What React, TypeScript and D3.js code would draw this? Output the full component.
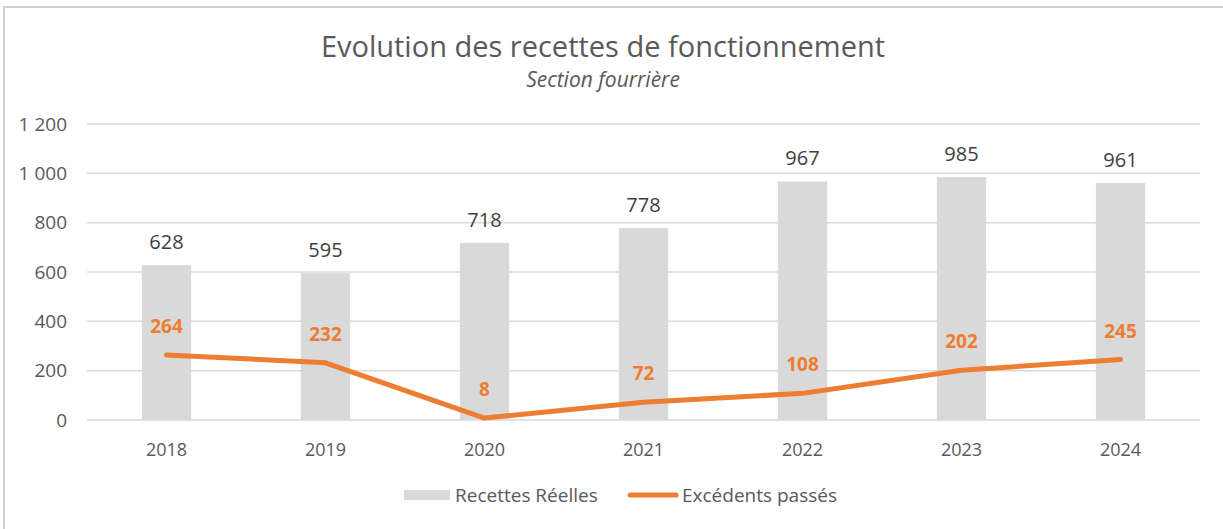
import React, { useEffect, useRef } from "react";
import * as d3 from "d3";

const WIDTH = 1223;
const HEIGHT = 529;

const years = ["2018", "2019", "2020", "2021", "2022", "2023", "2024"];
const recettes = [628, 595, 718, 778, 967, 985, 961];
const excedents = [264, 232, 8, 72, 108, 202, 245];
const yTicks = [0, 200, 400, 600, 800, 1000, 1200];

const FONT = "'Open Sans', sans-serif";
const ORANGE = "#ED7D31";
const GREY_BAR = "#D9D9D9";

export default function App() {
  const ref = useRef<SVGSVGElement | null>(null);

  useEffect(() => {
    const margin = { top: 124, right: 23, bottom: 109, left: 87 };
    const width = WIDTH - margin.left - margin.right;
    const height = HEIGHT - margin.top - margin.bottom;

    const root = d3.select(ref.current);
    root.selectAll("*").remove();

    // outer border (only left and top visible in the crop)
    root
      .append("rect")
      .attr("x", 3)
      .attr("y", 6)
      .attr("width", 2)
      .attr("height", HEIGHT - 6)
      .attr("fill", "#D0D0D0");
    root
      .append("rect")
      .attr("x", 3)
      .attr("y", 6)
      .attr("width", WIDTH - 3)
      .attr("height", 2)
      .attr("fill", "#D0D0D0");

    root
      .append("text")
      .attr("x", 603)
      .attr("y", 57)
      .attr("text-anchor", "middle")
      .attr("font-family", FONT)
      .attr("font-size", 29)
      .attr("fill", "#595959")
      .text("Evolution des recettes de fonctionnement");

    root
      .append("text")
      .attr("x", 603)
      .attr("y", 87)
      .attr("text-anchor", "middle")
      .attr("font-family", FONT)
      .attr("font-style", "italic")
      .attr("font-size", 21)
      .attr("fill", "#595959")
      .text("Section fourrière");

    const svg = root
      .append("g")
      .attr("transform", `translate(${margin.left},${margin.top})`);

    const x = d3.scaleBand().domain(years).range([0, width]).paddingInner(0.69).paddingOuter(0.345);
    const y = d3.scaleLinear().domain([0, 1200]).range([height, 0]);

    // gridlines
    svg
      .append("g")
      .selectAll("line")
      .data(yTicks)
      .join("line")
      .attr("x1", 0)
      .attr("x2", width)
      .attr("y1", (d) => y(d))
      .attr("y2", (d) => y(d))
      .attr("stroke", "#D9D9D9")
      .attr("stroke-width", 1.5);

    // y labels
    svg
      .append("g")
      .selectAll("text")
      .data(yTicks)
      .join("text")
      .attr("x", -20)
      .attr("y", (d) => y(d))
      .attr("dy", "0.35em")
      .attr("text-anchor", "end")
      .attr("font-family", FONT)
      .attr("font-size", 19)
      .attr("fill", "#595959")
      .text((d) => d3.format(",")(d).replace(",", " "));

    // bars
    svg
      .append("g")
      .selectAll("rect")
      .data(recettes)
      .join("rect")
      .attr("x", (d, i) => x(years[i]) as number)
      .attr("y", (d) => y(d))
      .attr("width", x.bandwidth())
      .attr("height", (d) => height - y(d))
      .attr("fill", GREY_BAR);

    // bar labels
    svg
      .append("g")
      .selectAll("text")
      .data(recettes)
      .join("text")
      .attr("x", (d, i) => (x(years[i]) as number) + x.bandwidth() / 2)
      .attr("y", (d) => y(d) - 16)
      .attr("text-anchor", "middle")
      .attr("font-family", FONT)
      .attr("font-size", 20)
      .attr("fill", "#404040")
      .text((d) => d);

    // x labels
    svg
      .append("g")
      .selectAll("text")
      .data(years)
      .join("text")
      .attr("x", (d) => (x(d) as number) + x.bandwidth() / 2)
      .attr("y", height + 36)
      .attr("text-anchor", "middle")
      .attr("font-family", FONT)
      .attr("font-size", 18)
      .attr("fill", "#595959")
      .text((d) => d);

    // line
    const line = d3
      .line<number>()
      .x((d, i) => (x(years[i]) as number) + x.bandwidth() / 2)
      .y((d) => y(d));

    svg
      .append("path")
      .datum(excedents)
      .attr("fill", "none")
      .attr("stroke", ORANGE)
      .attr("stroke-width", 5)
      .attr("stroke-linecap", "round")
      .attr("stroke-linejoin", "round")
      .attr("d", line);

    svg
      .append("g")
      .selectAll("text")
      .data(excedents)
      .join("text")
      .attr("x", (d, i) => (x(years[i]) as number) + x.bandwidth() / 2)
      .attr("y", (d) => y(d) - 22)
      .attr("text-anchor", "middle")
      .attr("font-family", FONT)
      .attr("font-weight", "bold")
      .attr("font-size", 19)
      .attr("fill", ORANGE)
      .text((d) => d);

    // legend
    const legend = root.append("g").attr("transform", "translate(0,495)");
    legend
      .append("rect")
      .attr("x", 404)
      .attr("y", -5)
      .attr("width", 46)
      .attr("height", 10)
      .attr("fill", GREY_BAR);
    legend
      .append("text")
      .attr("x", 455)
      .attr("y", 0)
      .attr("dy", "0.35em")
      .attr("font-family", FONT)
      .attr("font-size", 19)
      .attr("fill", "#595959")
      .text("Recettes Réelles");
    legend
      .append("line")
      .attr("x1", 630)
      .attr("x2", 676)
      .attr("y1", 0)
      .attr("y2", 0)
      .attr("stroke", ORANGE)
      .attr("stroke-width", 5)
      .attr("stroke-linecap", "round");
    legend
      .append("text")
      .attr("x", 682)
      .attr("y", 0)
      .attr("dy", "0.35em")
      .attr("font-family", FONT)
      .attr("font-size", 19)
      .attr("fill", "#595959")
      .text("Excédents passés");
  }, []);

  return (
    <svg
      ref={ref}
      width={WIDTH}
      height={HEIGHT}
      style={{ display: "block", position: "absolute", left: 0, top: 0 }}
    />
  );
}
